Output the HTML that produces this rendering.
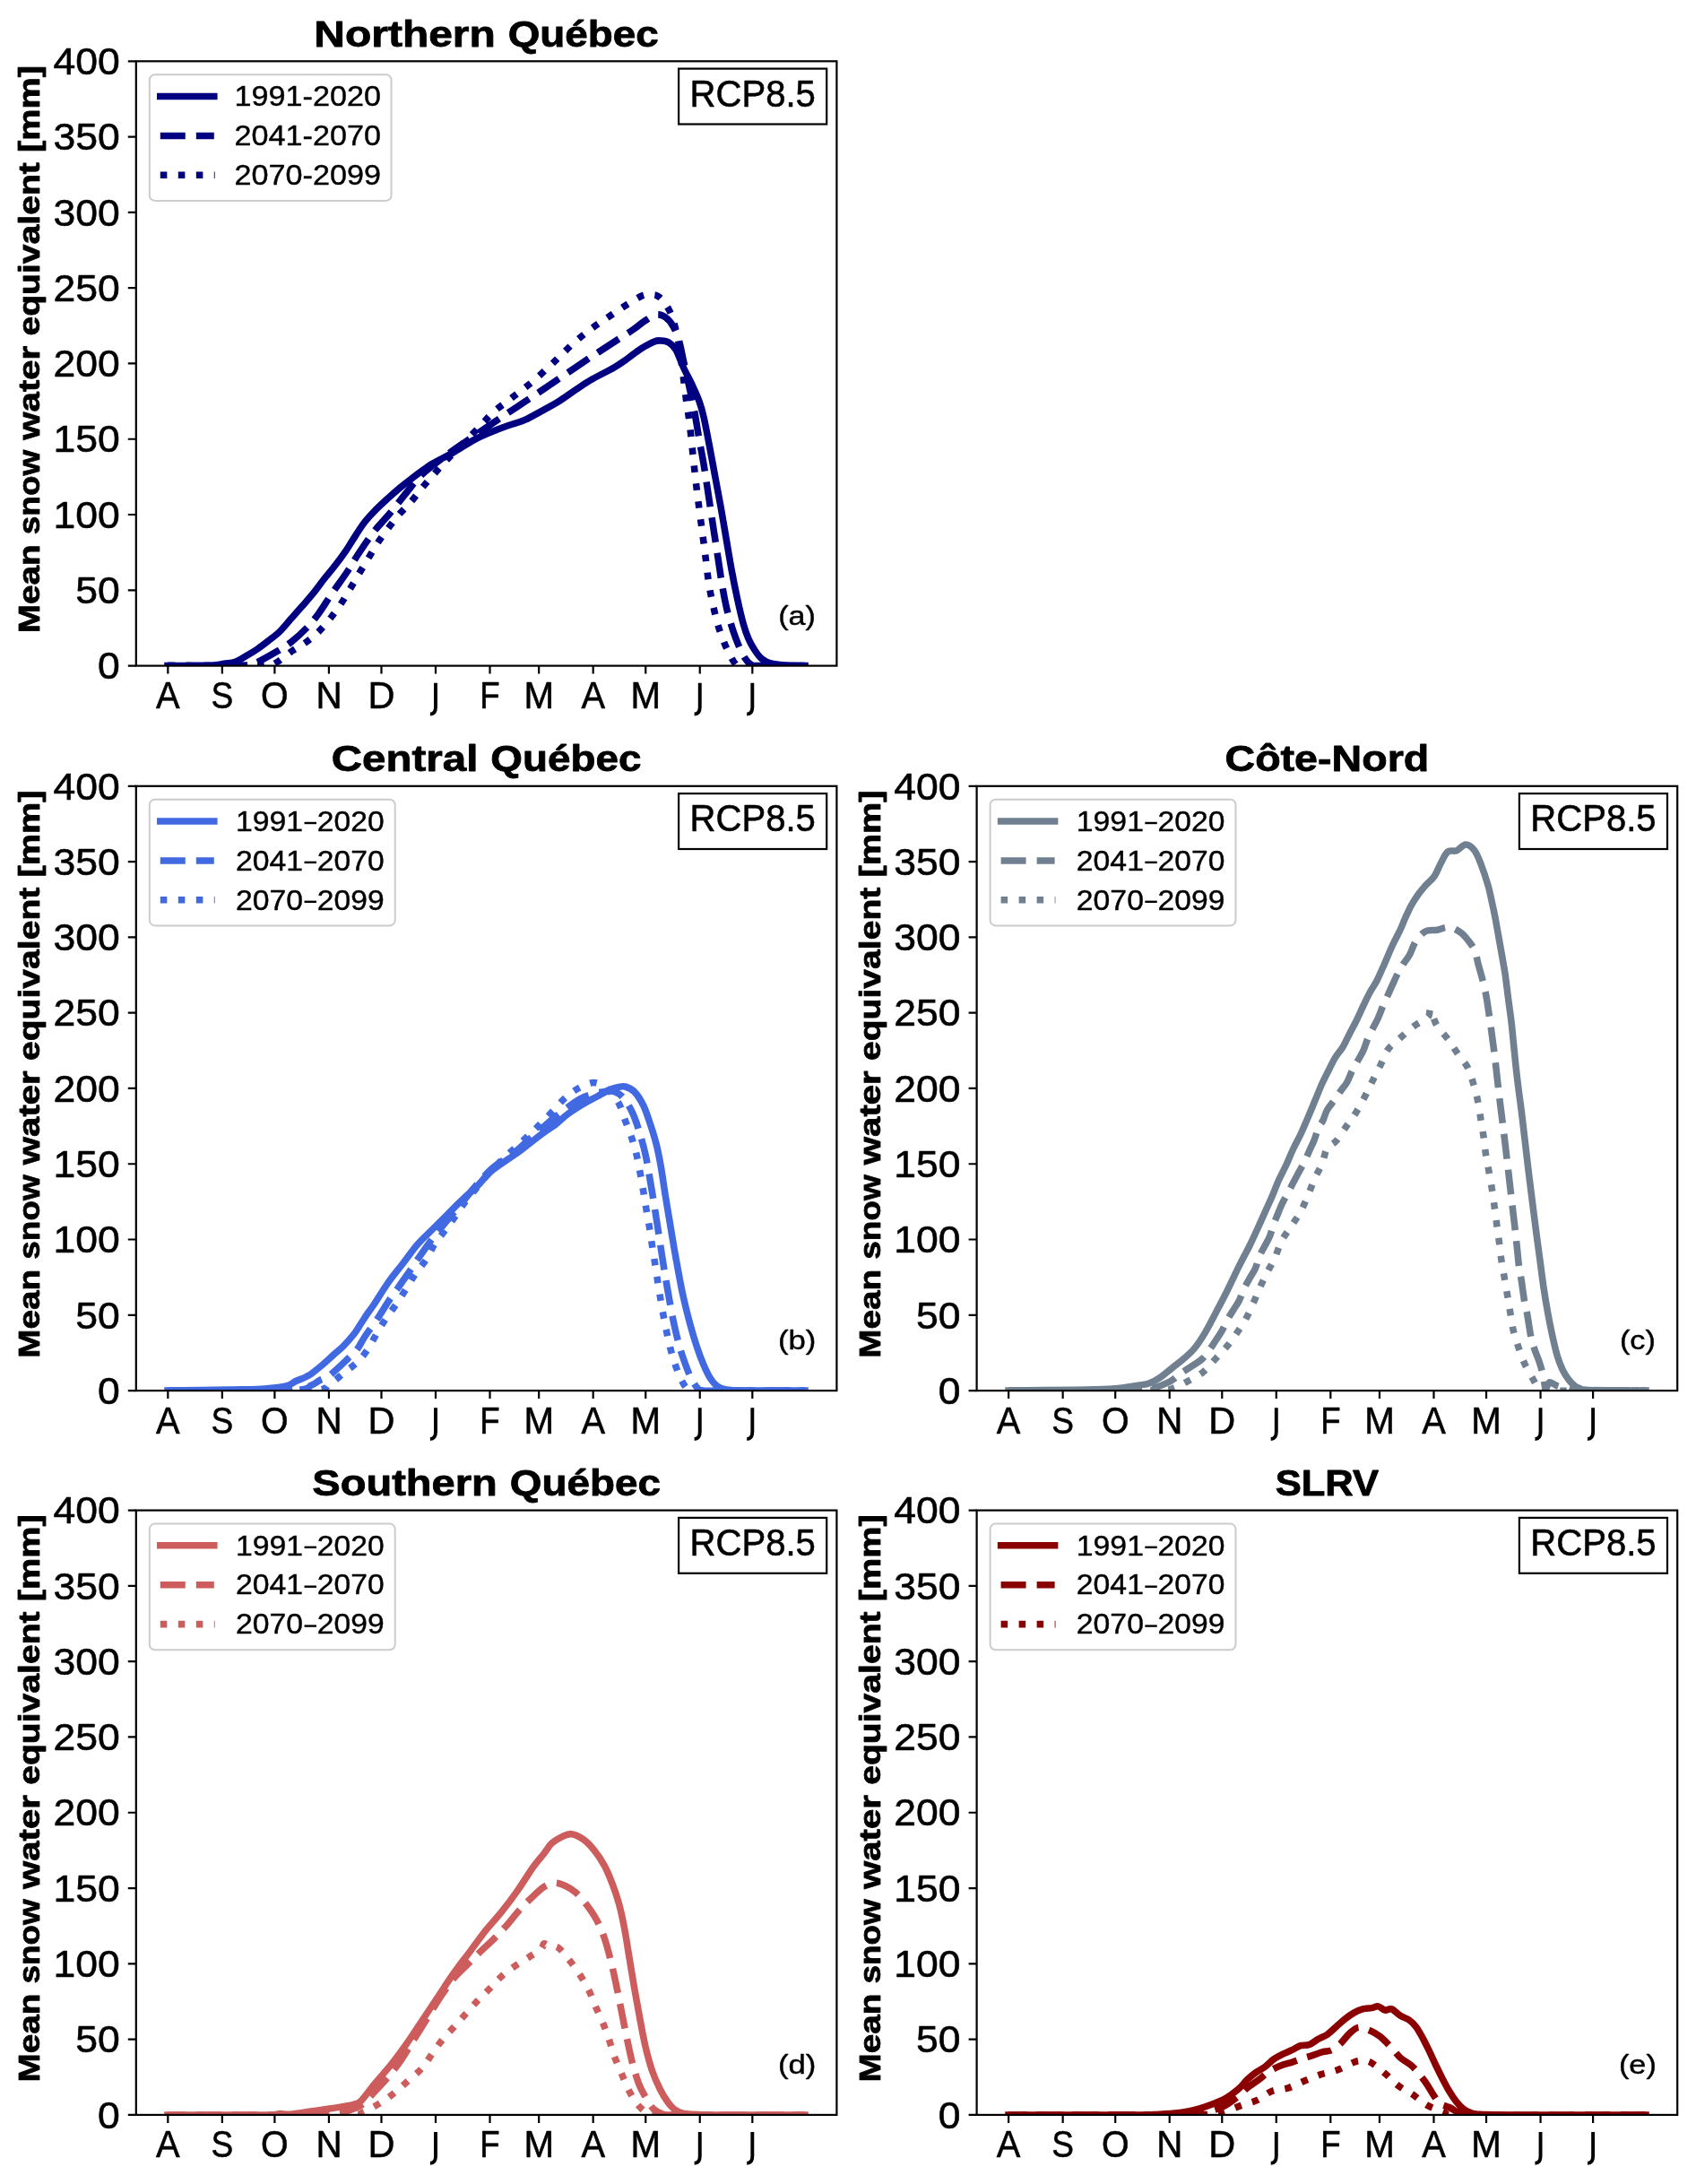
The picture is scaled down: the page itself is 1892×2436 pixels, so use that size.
<!DOCTYPE html>
<html><head><meta charset="utf-8"><title>Mean snow water equivalent</title>
<style>html,body{margin:0;padding:0;background:#fff}svg{display:block;will-change:transform}text{font-family:"Liberation Sans",sans-serif;fill:#000;stroke:#000;stroke-width:.6px;stroke-linejoin:round}.b{font-weight:bold;stroke-width:.8px}.s{stroke-width:.4px}</style></head><body>
<svg width="1892" height="2436" viewBox="0 0 1892 2436">
<rect x="0" y="0" width="1892" height="2436" fill="#fff"/>
<g id="chart-a">
<clipPath id="clip-a"><rect x="151.8" y="68.3" width="781.6" height="674.3"/></clipPath>
<g clip-path="url(#clip-a)" fill="none" stroke="#000080" stroke-width="7.55" stroke-linejoin="round">
<path d="M187 742.5C195 742.45 224.5 742.58 235 742.2C245.5 741.82 245.43 740.87 250 740.2C254.57 739.53 258.27 739.63 262.4 738.2C266.53 736.77 270.68 733.97 274.8 731.6C278.92 729.23 282.98 726.82 287.1 724C291.22 721.18 295.37 717.93 299.5 714.7C303.63 711.47 307.77 708.62 311.9 704.6C316.03 700.58 320.17 695.27 324.3 690.6C328.43 685.93 332.57 681.33 336.7 676.6C340.83 671.87 344.98 667.3 349.1 662.2C353.22 657.1 357.28 651.23 361.4 646C365.52 640.77 369.67 636.17 373.8 630.8C377.93 625.43 382.95 618.5 386.2 613.8C389.45 609.1 389.92 607.77 393.3 602.6C396.68 597.43 402.08 588.57 406.5 582.8C410.92 577.03 415.37 572.55 419.8 568C424.23 563.45 428.68 559.5 433.1 555.5C437.52 551.5 441.88 547.68 446.3 544C450.72 540.32 455.17 536.8 459.6 533.4C464.03 530 469.22 526.23 472.9 523.6C476.58 520.97 478.02 519.78 481.7 517.6C485.38 515.42 490.58 512.88 495 510.5C499.42 508.12 502.55 506.62 508.2 503.3C513.85 499.98 522.32 494.15 528.9 490.6C535.48 487.05 541.42 484.63 547.7 482C553.98 479.37 560.3 477.07 566.6 474.8C572.9 472.53 579.22 471.13 585.5 468.4C591.78 465.67 598.02 461.85 604.3 458.4C610.58 454.95 616.9 451.63 623.2 447.7C629.5 443.77 635.82 438.95 642.1 434.8C648.38 430.65 653.75 426.93 660.9 422.8C668.05 418.67 678.48 413.8 685 410C691.52 406.2 695 403.5 700 400C705 396.5 710 392.17 715 389C720 385.83 726.25 382.5 730 381C733.75 379.5 734.83 379.83 737.5 380C740.17 380.17 743.25 380.33 746 382C748.75 383.67 751.25 385.33 754 390C756.75 394.67 759.42 403.33 762.5 410C765.58 416.67 769.58 423.75 772.5 430C775.42 436.25 777.92 441.67 780 447.5C782.08 453.33 783.17 457.08 785 465C786.83 472.92 788.92 484.17 791 495C793.08 505.83 795.33 518.33 797.5 530C799.67 541.67 801.92 553.33 804 565C806.08 576.67 808 588.33 810 600C812 611.67 813.92 623.75 816 635C818.08 646.25 820.33 657.5 822.5 667.5C824.67 677.5 826.92 687.5 829 695C831.08 702.5 832.75 707.33 835 712.5C837.25 717.67 840 722.25 842.5 726C845 729.75 847.08 732.67 850 735C852.92 737.33 855.83 738.83 860 740C864.17 741.17 868.67 741.58 875 742C881.33 742.42 894.17 742.42 898 742.5" stroke-linecap="square"/>
<path d="M187 742.5C200.83 742.47 253.67 742.8 270 742.3C285 741.8 278.33 742.22 285 739.5C291.67 736.78 303.33 729.92 310 726C316.67 722.08 319.58 720.33 325 716C330.42 711.67 337.5 705.17 342.5 700C347.5 694.83 350.42 691.25 355 685C359.58 678.75 364.58 670.42 370 662.5C375.42 654.58 382.5 645 387.5 637.5C392.5 630 395 625 400 617.5C405 610 411.67 600 417.5 592.5C423.33 585 428.75 580 435 572.5C441.25 565 449.17 554.58 455 547.5C460.83 540.42 463.33 536.25 470 530C476.67 523.75 487.08 516 495 510C502.92 504 509.58 499.5 517.5 494C525.42 488.5 535.42 481.83 542.5 477C549.58 472.17 552.92 469.77 560 465C567.08 460.23 576.67 453.97 585 448.4C593.33 442.83 601.67 437.22 610 431.6C618.33 425.98 626.67 420.33 635 414.7C643.33 409.07 651.67 403.33 660 397.8C668.33 392.27 677.5 386.38 685 381.5C692.5 376.62 699.17 372.5 705 368.5C710.83 364.5 715.42 360.42 720 357.5C724.58 354.58 728.75 351.58 732.5 351C736.25 350.42 739.42 351.83 742.5 354C745.58 356.17 748.5 359.67 751 364C753.5 368.33 755.58 373.58 757.5 380C759.42 386.42 760.83 395 762.5 402.5C764.17 410 765.58 416.25 767.5 425C769.42 433.75 771.92 444.17 774 455C776.08 465.83 778.17 479.58 780 490C781.83 500.42 783.33 507.5 785 517.5C786.67 527.5 788.17 537.92 790 550C791.83 562.08 794.17 577.92 796 590C797.83 602.08 799.33 611.67 801 622.5C802.67 633.33 804.33 645.42 806 655C807.67 664.58 809.08 672.08 811 680C812.92 687.92 815.33 695.83 817.5 702.5C819.67 709.17 821.75 714.75 824 720C826.25 725.25 828.75 730.5 831 734C833.25 737.5 835.17 739.58 837.5 741C839.83 742.42 837.5 742.25 845 742.5C855.08 742.75 889.17 742.5 898 742.5" stroke-dasharray="27.94 12.08" stroke-dashoffset="19"/>
<path d="M187 742.5C205 742.47 274.92 742.8 295 742.3C307.5 741.8 302.33 742.22 307.5 739.5C312.67 736.78 320.17 730 326 726C331.83 722 337.5 719.17 342.5 715.5C347.5 711.83 351.58 708.42 356 704C360.42 699.58 364.83 694.25 369 689C373.17 683.75 377.33 678 381 672.5C384.67 667 387.67 661.58 391 656C394.33 650.42 397.67 644.58 401 639C404.33 633.42 407.67 628 411 622.5C414.33 617 417.42 611.42 421 606C424.58 600.58 428.5 595.33 432.5 590C436.5 584.67 440.58 579.17 445 574C449.42 568.83 454.67 564 459 559C463.33 554 466.83 549 471 544C475.17 539 479.58 534 484 529C488.42 524 492.33 519.5 497.5 514C502.67 508.5 508.75 502.33 515 496C521.25 489.67 529.17 482 535 476C540.83 470 544.83 464.75 550 460C555.17 455.25 560.83 451.5 566 447.5C571.17 443.5 576 439.92 581 436C586 432.08 590.75 428.5 596 424C601.25 419.5 607.5 413.67 612.5 409C617.5 404.33 621.42 400.42 626 396C630.58 391.58 635.33 386.67 640 382.5C644.67 378.33 649.42 374.58 654 371C658.58 367.42 662.75 364.33 667.5 361C672.25 357.67 677.25 354.5 682.5 351C687.75 347.5 693.42 343.5 699 340C704.58 336.5 711.67 331.83 716 330C720.33 328.17 721.83 328.83 725 329C728.17 329.17 731.5 328.33 735 331C738.5 333.67 743.08 339.75 746 345C748.92 350.25 750.58 355.83 752.5 362.5C754.42 369.17 756.08 377.08 757.5 385C758.92 392.92 759.75 400.42 761 410C762.25 419.58 763.67 432.5 765 442.5C766.33 452.5 767.75 460 769 470C770.25 480 771.33 491.67 772.5 502.5C773.67 513.33 774.75 524.17 776 535C777.25 545.83 778.67 557.08 780 567.5C781.33 577.92 782.75 587.92 784 597.5C785.25 607.08 786.33 615.83 787.5 625C788.67 634.17 789.58 643.75 791 652.5C792.42 661.25 794.33 670 796 677.5C797.67 685 799.08 691.08 801 697.5C802.92 703.92 805.33 710.58 807.5 716C809.67 721.42 811.92 726 814 730C816.08 734 818 737.92 820 740C822 742.08 820 742.08 826 742.5C839 742.92 886 742.5 898 742.5" stroke-dasharray="7.55 12.46" stroke-dashoffset="0"/>
</g>
<rect x="151.8" y="68.3" width="781.6" height="674.3" fill="none" stroke="#000" stroke-width="2.2"/>
<path d="M151.8 742.6h-9M151.8 658.31h-9M151.8 574.02h-9M151.8 489.74h-9M151.8 405.45h-9M151.8 321.16h-9M151.8 236.87h-9M151.8 152.59h-9M151.8 68.3h-9M187.33 742.6v9M247.84 742.6v9M306.4 742.6v9M366.92 742.6v9M425.48 742.6v9M485.99 742.6v9M546.51 742.6v9M601.16 742.6v9M661.68 742.6v9M720.24 742.6v9M780.75 742.6v9M839.32 742.6v9" stroke="#000" stroke-width="2.2" fill="none"/>
<text x="133.7" y="757.3" font-size="42" text-anchor="end" textLength="24.74" lengthAdjust="spacingAndGlyphs">0</text>
<text x="133.7" y="673.01" font-size="42" text-anchor="end" textLength="49.49" lengthAdjust="spacingAndGlyphs">50</text>
<text x="133.7" y="588.72" font-size="42" text-anchor="end" textLength="74.23" lengthAdjust="spacingAndGlyphs">100</text>
<text x="133.7" y="504.44" font-size="42" text-anchor="end" textLength="74.23" lengthAdjust="spacingAndGlyphs">150</text>
<text x="133.7" y="420.15" font-size="42" text-anchor="end" textLength="74.23" lengthAdjust="spacingAndGlyphs">200</text>
<text x="133.7" y="335.86" font-size="42" text-anchor="end" textLength="74.23" lengthAdjust="spacingAndGlyphs">250</text>
<text x="133.7" y="251.57" font-size="42" text-anchor="end" textLength="74.23" lengthAdjust="spacingAndGlyphs">300</text>
<text x="133.7" y="167.29" font-size="42" text-anchor="end" textLength="74.23" lengthAdjust="spacingAndGlyphs">350</text>
<text x="133.7" y="83" font-size="42" text-anchor="end" textLength="74.23" lengthAdjust="spacingAndGlyphs">400</text>
<text x="187.33" y="790.1" font-size="42" text-anchor="middle" textLength="26.6" lengthAdjust="spacingAndGlyphs">A</text>
<text x="247.84" y="790.1" font-size="42" text-anchor="middle" textLength="24.69" lengthAdjust="spacingAndGlyphs">S</text>
<text x="306.4" y="790.1" font-size="42" text-anchor="middle" textLength="30.61" lengthAdjust="spacingAndGlyphs">O</text>
<text x="366.92" y="790.1" font-size="42" text-anchor="middle" textLength="29.09" lengthAdjust="spacingAndGlyphs">N</text>
<text x="425.48" y="790.1" font-size="42" text-anchor="middle" textLength="29.95" lengthAdjust="spacingAndGlyphs">D</text>
<path d="M485.99 761.7V788.8c0 5 -1.9 7.7 -6.1 7.7" fill="none" stroke="#000" stroke-width="3.9"/>
<text x="546.51" y="790.1" font-size="42" text-anchor="middle" textLength="22.37" lengthAdjust="spacingAndGlyphs">F</text>
<text x="601.16" y="790.1" font-size="42" text-anchor="middle" textLength="33.55" lengthAdjust="spacingAndGlyphs">M</text>
<text x="661.68" y="790.1" font-size="42" text-anchor="middle" textLength="26.6" lengthAdjust="spacingAndGlyphs">A</text>
<text x="720.24" y="790.1" font-size="42" text-anchor="middle" textLength="33.55" lengthAdjust="spacingAndGlyphs">M</text>
<path d="M780.75 761.7V788.8c0 5 -1.9 7.7 -6.1 7.7" fill="none" stroke="#000" stroke-width="3.9"/>
<path d="M839.32 761.7V788.8c0 5 -1.9 7.7 -6.1 7.7" fill="none" stroke="#000" stroke-width="3.9"/>
<text x="350.33" y="51.5" font-size="41.22" textLength="202.52" lengthAdjust="spacingAndGlyphs" class="b">Northern</text>
<text x="566.7" y="51.5" font-size="41.22" textLength="168.17" lengthAdjust="spacingAndGlyphs" class="b">Québec</text>
<g transform="translate(44.2 706.2) rotate(-90)">
<text x="0" y="0" font-size="34" textLength="98.83" lengthAdjust="spacingAndGlyphs" class="b">Mean</text>
<text x="110.07" y="0" font-size="34" textLength="94.24" lengthAdjust="spacingAndGlyphs" class="b">snow</text>
<text x="215.56" y="0" font-size="34" textLength="104.9" lengthAdjust="spacingAndGlyphs" class="b">water</text>
<text x="331.71" y="0" font-size="34" textLength="193.34" lengthAdjust="spacingAndGlyphs" class="b">equivalent</text>
<text x="536.29" y="0" font-size="34" textLength="96.83" lengthAdjust="spacingAndGlyphs" class="b">[mm]</text>
</g>
<rect x="757.1" y="76.6" width="165.1" height="61.9" fill="#fff" stroke="#000" stroke-width="2.2"/>
<text x="839.7" y="118.8" font-size="42.39" text-anchor="middle" textLength="140.29" lengthAdjust="spacingAndGlyphs">RCP8.5</text>
<text x="889.1" y="696.7" font-size="29.1" text-anchor="middle" textLength="41.79" lengthAdjust="spacingAndGlyphs" class="s">(a)</text>
<rect x="166.8" y="83.3" width="269.72" height="140.6" rx="6" ry="6" fill="#fff" fill-opacity="0.8" stroke="#ccc" stroke-width="2"/>
<path d="M178.8 107.5H238.8" stroke="#000080" stroke-width="7.55" stroke-linecap="square" fill="none"/>
<text x="261.5" y="118.2" font-size="30.9" textLength="163.52" lengthAdjust="spacingAndGlyphs" class="s">1991-2020</text>
<path d="M178.8 151.4H238.8" stroke="#000080" stroke-width="7.55" stroke-dasharray="27.94 12.08" fill="none"/>
<text x="261.5" y="162.1" font-size="30.9" textLength="163.52" lengthAdjust="spacingAndGlyphs" class="s">2041-2070</text>
<path d="M178.8 195.3H239.7" stroke="#000080" stroke-width="7.55" stroke-dasharray="7.55 12.46" fill="none"/>
<text x="261.5" y="206" font-size="30.9" textLength="163.52" lengthAdjust="spacingAndGlyphs" class="s">2070-2099</text>
</g>
<g id="chart-b">
<clipPath id="clip-b"><rect x="151.8" y="876.8" width="781.6" height="674.3"/></clipPath>
<g clip-path="url(#clip-b)" fill="none" stroke="#4169e1" stroke-width="7.55" stroke-linejoin="round">
<path d="M187 1551C199.17 1550.83 243.33 1550.25 260 1550C276.67 1549.75 279.5 1549.83 287 1549.5C294.5 1549.17 299.45 1548.63 305 1548C310.55 1547.37 316.13 1546.95 320.3 1545.7C324.47 1544.45 327.25 1541.82 330 1540.5C332.75 1539.18 334.83 1538.63 336.8 1537.8C338.77 1536.97 339.98 1536.47 341.8 1535.5C343.62 1534.53 344.75 1534.17 347.7 1532C350.65 1529.83 355.57 1525.85 359.5 1522.5C363.43 1519.15 367.37 1515.43 371.3 1511.9C375.23 1508.37 379.17 1505.28 383.1 1501.3C387.03 1497.32 391.67 1492.13 394.9 1488C398.13 1483.87 399.98 1480.33 402.5 1476.5C405.02 1472.67 407.5 1468.67 410 1465C412.5 1461.33 413.67 1460.23 417.5 1454.5C421.33 1448.77 427.67 1438.15 433 1430.6C438.33 1423.05 444 1416.35 449.5 1409.2C455 1402.05 460.5 1394.03 466 1387.7C471.5 1381.37 476.98 1376.7 482.5 1371.2C488.02 1365.7 493.58 1360.2 499.1 1354.7C504.62 1349.2 510.1 1343.43 515.6 1338.2C521.1 1332.97 526.65 1328.67 532.1 1323.3C537.55 1317.93 540.88 1312.18 548.3 1306C555.72 1299.82 569.65 1291.2 576.6 1286.2C583.55 1281.2 585.28 1279.62 590 1276C594.72 1272.38 599.9 1268.17 604.9 1264.5C609.9 1260.83 615.28 1257.62 620 1254C624.72 1250.38 627.85 1246.7 633.2 1242.8C638.55 1238.9 646.6 1233.9 652.1 1230.6C657.6 1227.3 661.55 1225.52 666.2 1223C670.85 1220.48 676.03 1217.25 680 1215.5C683.97 1213.75 687.08 1213.08 690 1212.5C692.92 1211.92 694.58 1211.17 697.5 1212C700.42 1212.83 704.17 1214.08 707.5 1217.5C710.83 1220.92 714.58 1226.67 717.5 1232.5C720.42 1238.33 722.5 1245 725 1252.5C727.5 1260 730.42 1269.17 732.5 1277.5C734.58 1285.83 735.83 1292.92 737.5 1302.5C739.17 1312.08 740.83 1324.58 742.5 1335C744.17 1345.42 745.83 1355 747.5 1365C749.17 1375 750.83 1385.42 752.5 1395C754.17 1404.58 755.83 1413.75 757.5 1422.5C759.17 1431.25 760.42 1438.33 762.5 1447.5C764.58 1456.67 767.5 1468.33 770 1477.5C772.5 1486.67 775 1495 777.5 1502.5C780 1510 782.5 1516.67 785 1522.5C787.5 1528.33 790 1533.58 792.5 1537.5C795 1541.42 797.08 1543.92 800 1546C802.92 1548.08 805 1549.17 810 1550C815 1550.83 815.33 1550.83 830 1551C844.67 1551.17 886.67 1551 898 1551" stroke-linecap="square"/>
<path d="M187 1551C210.83 1550.92 303.25 1551.5 330 1550.5C347.5 1549.5 343.08 1546.82 347.5 1545C351.92 1543.18 353.32 1541.28 356.5 1539.6C359.68 1537.92 362.97 1537.37 366.6 1534.9C370.23 1532.43 374.73 1528.03 378.3 1524.8C381.87 1521.57 384.75 1518.63 388 1515.5C391.25 1512.37 394.55 1510.25 397.8 1506C401.05 1501.75 403.8 1495.58 407.5 1490C411.2 1484.42 415.75 1478.82 420 1472.5C424.25 1466.18 428.83 1458.35 433 1452.1C437.17 1445.85 441.15 1440.5 445 1435C448.85 1429.5 452.43 1424.43 456.1 1419.1C459.77 1413.77 463.28 1408.37 467 1403C470.72 1397.63 474.57 1392.07 478.4 1386.9C482.23 1381.73 486.07 1376.9 490 1372C493.93 1367.1 497.83 1362.5 502 1357.5C506.17 1352.5 510.33 1347.67 515 1342C519.67 1336.33 524.58 1329.75 530 1323.5C535.42 1317.25 542.5 1309.25 547.5 1304.5C552.5 1299.75 555.42 1298.33 560 1295C564.58 1291.67 570 1288.5 575 1284.5C580 1280.5 585.17 1275.25 590 1271C594.83 1266.75 599.55 1262.83 604 1259C608.45 1255.17 612.03 1251.83 616.7 1248C621.37 1244.17 627.05 1239.67 632 1236C636.95 1232.33 641.73 1228.58 646.4 1226C651.07 1223.42 655.23 1221.92 660 1220.5C664.77 1219.08 670.83 1218 675 1217.5C679.17 1217 681.67 1216.42 685 1217.5C688.33 1218.58 691.67 1220.25 695 1224C698.33 1227.75 702.08 1234 705 1240C707.92 1246 710 1252.08 712.5 1260C715 1267.92 717.92 1278.33 720 1287.5C722.08 1296.67 723.33 1305.42 725 1315C726.67 1324.58 728.33 1334.58 730 1345C731.67 1355.42 733.33 1366.67 735 1377.5C736.67 1388.33 738.33 1399.58 740 1410C741.67 1420.42 743.17 1429.58 745 1440C746.83 1450.42 748.92 1462.5 751 1472.5C753.08 1482.5 755.33 1492.08 757.5 1500C759.67 1507.92 761.92 1514.17 764 1520C766.08 1525.83 767.75 1530.42 770 1535C772.25 1539.58 775 1544.83 777.5 1547.5C780 1550.17 777.5 1550.42 785 1551C805.08 1551.58 879.17 1551 898 1551" stroke-dasharray="27.94 12.08" stroke-dashoffset="13"/>
<path d="M187 1551C214.5 1550.92 321.92 1551.67 352 1550.5C367.5 1549.33 362.17 1547.25 367.5 1544C372.83 1540.75 378.75 1535.17 384 1531C389.25 1526.83 394.5 1523.5 399 1519C403.5 1514.5 407.33 1509.5 411 1504C414.67 1498.5 417.67 1491.67 421 1486C424.33 1480.33 427.42 1475.33 431 1470C434.58 1464.67 438.67 1459.67 442.5 1454C446.33 1448.33 450.42 1441.67 454 1436C457.58 1430.33 460.33 1425.33 464 1420C467.67 1414.67 472.5 1409.42 476 1404C479.5 1398.58 481.42 1393 485 1387.5C488.58 1382 493.5 1376.42 497.5 1371C501.5 1365.58 505.25 1360.33 509 1355C512.75 1349.67 516.08 1344.17 520 1339C523.92 1333.83 528.33 1329 532.5 1324C536.67 1319 540.42 1314.08 545 1309C549.58 1303.92 555 1298.33 560 1293.5C565 1288.67 570 1284.58 575 1280C580 1275.42 585.42 1270.33 590 1266C594.58 1261.67 598.17 1258.33 602.5 1254C606.83 1249.67 611.42 1244.83 616 1240C620.58 1235.17 625.17 1229.33 630 1225C634.83 1220.67 639.58 1216.92 645 1214C650.42 1211.08 657.08 1207.33 662.5 1207.5C667.92 1207.67 672.92 1211.25 677.5 1215C682.08 1218.75 686.67 1224.17 690 1230C693.33 1235.83 695 1243.33 697.5 1250C700 1256.67 702.92 1263.75 705 1270C707.08 1276.25 708.5 1281.25 710 1287.5C711.5 1293.75 712.75 1300.83 714 1307.5C715.25 1314.17 716.42 1321.08 717.5 1327.5C718.58 1333.92 719.42 1339.58 720.5 1346C721.58 1352.42 722.92 1359.33 724 1366C725.08 1372.67 726 1379.5 727 1386C728 1392.5 729 1398.5 730 1405C731 1411.5 732 1418.5 733 1425C734 1431.5 734.92 1437.5 736 1444C737.08 1450.5 738.33 1457.58 739.5 1464C740.67 1470.42 741.67 1476.08 743 1482.5C744.33 1488.92 745.92 1496.25 747.5 1502.5C749.08 1508.75 750.42 1513.92 752.5 1520C754.58 1526.08 757.5 1534 760 1539C762.5 1544 765 1548 767.5 1550C770 1552 767.5 1550.83 775 1551C796.75 1551.17 877.5 1551 898 1551" stroke-dasharray="7.55 12.46" stroke-dashoffset="8.5"/>
</g>
<rect x="151.8" y="876.8" width="781.6" height="674.3" fill="none" stroke="#000" stroke-width="2.2"/>
<path d="M151.8 1551.1h-9M151.8 1466.81h-9M151.8 1382.52h-9M151.8 1298.24h-9M151.8 1213.95h-9M151.8 1129.66h-9M151.8 1045.38h-9M151.8 961.09h-9M151.8 876.8h-9M187.33 1551.1v9M247.84 1551.1v9M306.4 1551.1v9M366.92 1551.1v9M425.48 1551.1v9M485.99 1551.1v9M546.51 1551.1v9M601.16 1551.1v9M661.68 1551.1v9M720.24 1551.1v9M780.75 1551.1v9M839.32 1551.1v9" stroke="#000" stroke-width="2.2" fill="none"/>
<text x="133.7" y="1565.8" font-size="42" text-anchor="end" textLength="24.74" lengthAdjust="spacingAndGlyphs">0</text>
<text x="133.7" y="1481.51" font-size="42" text-anchor="end" textLength="49.49" lengthAdjust="spacingAndGlyphs">50</text>
<text x="133.7" y="1397.22" font-size="42" text-anchor="end" textLength="74.23" lengthAdjust="spacingAndGlyphs">100</text>
<text x="133.7" y="1312.94" font-size="42" text-anchor="end" textLength="74.23" lengthAdjust="spacingAndGlyphs">150</text>
<text x="133.7" y="1228.65" font-size="42" text-anchor="end" textLength="74.23" lengthAdjust="spacingAndGlyphs">200</text>
<text x="133.7" y="1144.36" font-size="42" text-anchor="end" textLength="74.23" lengthAdjust="spacingAndGlyphs">250</text>
<text x="133.7" y="1060.08" font-size="42" text-anchor="end" textLength="74.23" lengthAdjust="spacingAndGlyphs">300</text>
<text x="133.7" y="975.79" font-size="42" text-anchor="end" textLength="74.23" lengthAdjust="spacingAndGlyphs">350</text>
<text x="133.7" y="891.5" font-size="42" text-anchor="end" textLength="74.23" lengthAdjust="spacingAndGlyphs">400</text>
<text x="187.33" y="1598.6" font-size="42" text-anchor="middle" textLength="26.6" lengthAdjust="spacingAndGlyphs">A</text>
<text x="247.84" y="1598.6" font-size="42" text-anchor="middle" textLength="24.69" lengthAdjust="spacingAndGlyphs">S</text>
<text x="306.4" y="1598.6" font-size="42" text-anchor="middle" textLength="30.61" lengthAdjust="spacingAndGlyphs">O</text>
<text x="366.92" y="1598.6" font-size="42" text-anchor="middle" textLength="29.09" lengthAdjust="spacingAndGlyphs">N</text>
<text x="425.48" y="1598.6" font-size="42" text-anchor="middle" textLength="29.95" lengthAdjust="spacingAndGlyphs">D</text>
<path d="M485.99 1570.2V1597.3c0 5 -1.9 7.7 -6.1 7.7" fill="none" stroke="#000" stroke-width="3.9"/>
<text x="546.51" y="1598.6" font-size="42" text-anchor="middle" textLength="22.37" lengthAdjust="spacingAndGlyphs">F</text>
<text x="601.16" y="1598.6" font-size="42" text-anchor="middle" textLength="33.55" lengthAdjust="spacingAndGlyphs">M</text>
<text x="661.68" y="1598.6" font-size="42" text-anchor="middle" textLength="26.6" lengthAdjust="spacingAndGlyphs">A</text>
<text x="720.24" y="1598.6" font-size="42" text-anchor="middle" textLength="33.55" lengthAdjust="spacingAndGlyphs">M</text>
<path d="M780.75 1570.2V1597.3c0 5 -1.9 7.7 -6.1 7.7" fill="none" stroke="#000" stroke-width="3.9"/>
<path d="M839.32 1570.2V1597.3c0 5 -1.9 7.7 -6.1 7.7" fill="none" stroke="#000" stroke-width="3.9"/>
<text x="369.78" y="860" font-size="41.22" textLength="163.63" lengthAdjust="spacingAndGlyphs" class="b">Central</text>
<text x="547.25" y="860" font-size="41.22" textLength="168.17" lengthAdjust="spacingAndGlyphs" class="b">Québec</text>
<g transform="translate(44.2 1514.7) rotate(-90)">
<text x="0" y="0" font-size="34" textLength="98.83" lengthAdjust="spacingAndGlyphs" class="b">Mean</text>
<text x="110.07" y="0" font-size="34" textLength="94.24" lengthAdjust="spacingAndGlyphs" class="b">snow</text>
<text x="215.56" y="0" font-size="34" textLength="104.9" lengthAdjust="spacingAndGlyphs" class="b">water</text>
<text x="331.71" y="0" font-size="34" textLength="193.34" lengthAdjust="spacingAndGlyphs" class="b">equivalent</text>
<text x="536.29" y="0" font-size="34" textLength="96.83" lengthAdjust="spacingAndGlyphs" class="b">[mm]</text>
</g>
<rect x="757.1" y="885.1" width="165.1" height="61.9" fill="#fff" stroke="#000" stroke-width="2.2"/>
<text x="839.7" y="927.3" font-size="42.39" text-anchor="middle" textLength="140.29" lengthAdjust="spacingAndGlyphs">RCP8.5</text>
<text x="889.1" y="1505.2" font-size="29.1" text-anchor="middle" textLength="42.45" lengthAdjust="spacingAndGlyphs" class="s">(b)</text>
<rect x="166.8" y="891.8" width="273.9" height="140.6" rx="6" ry="6" fill="#fff" fill-opacity="0.8" stroke="#ccc" stroke-width="2"/>
<path d="M178.8 916H238.8" stroke="#4169e1" stroke-width="7.55" stroke-linecap="square" fill="none"/>
<text x="263" y="926.7" font-size="30.9" textLength="75.15" lengthAdjust="spacingAndGlyphs" class="s">1991</text>
<rect x="339.55" y="916.8" width="13.4" height="2.4" fill="#000"/>
<text x="353.75" y="926.7" font-size="30.9" textLength="74.85" lengthAdjust="spacingAndGlyphs" class="s">2020</text>
<path d="M178.8 959.9H238.8" stroke="#4169e1" stroke-width="7.55" stroke-dasharray="27.94 12.08" fill="none"/>
<text x="263" y="970.6" font-size="30.9" textLength="75.15" lengthAdjust="spacingAndGlyphs" class="s">2041</text>
<rect x="339.55" y="960.7" width="13.4" height="2.4" fill="#000"/>
<text x="353.75" y="970.6" font-size="30.9" textLength="74.85" lengthAdjust="spacingAndGlyphs" class="s">2070</text>
<path d="M178.8 1003.8H239.7" stroke="#4169e1" stroke-width="7.55" stroke-dasharray="7.55 12.46" fill="none"/>
<text x="263" y="1014.5" font-size="30.9" textLength="75.15" lengthAdjust="spacingAndGlyphs" class="s">2070</text>
<rect x="339.55" y="1004.6" width="13.4" height="2.4" fill="#000"/>
<text x="353.75" y="1014.5" font-size="30.9" textLength="74.85" lengthAdjust="spacingAndGlyphs" class="s">2099</text>
</g>
<g id="chart-c">
<clipPath id="clip-c"><rect x="1089.6" y="876.8" width="781.6" height="674.3"/></clipPath>
<g clip-path="url(#clip-c)" fill="none" stroke="#708090" stroke-width="7.55" stroke-linejoin="round">
<path d="M1125 1551C1137.5 1550.87 1181.25 1550.5 1200 1550.2C1218.75 1549.9 1228.33 1549.65 1237.5 1549.2C1246.67 1548.75 1249.58 1548.17 1255 1547.5C1260.42 1546.83 1265.43 1546 1270 1545.2C1274.57 1544.4 1278.27 1544.22 1282.4 1542.7C1286.53 1541.18 1290.68 1538.85 1294.8 1536.1C1298.92 1533.35 1302.98 1529.5 1307.1 1526.2C1311.22 1522.9 1315.37 1519.88 1319.5 1516.3C1323.63 1512.72 1327.77 1509.65 1331.9 1504.7C1336.03 1499.75 1340.17 1493.47 1344.3 1486.6C1348.43 1479.73 1352.57 1471.35 1356.7 1463.5C1360.83 1455.65 1364.98 1447.77 1369.1 1439.5C1373.22 1431.23 1378.25 1420.32 1381.4 1413.9C1384.55 1407.48 1385.9 1405.07 1388 1401C1390.1 1396.93 1391.48 1394.67 1394 1389.5C1396.52 1384.33 1400.07 1376.63 1403.1 1370C1406.13 1363.37 1409.45 1355.83 1412.2 1349.7C1414.95 1343.57 1417.27 1338.65 1419.6 1333.2C1421.93 1327.75 1423.72 1322.53 1426.2 1317C1428.68 1311.47 1431.75 1305.92 1434.5 1300C1437.25 1294.08 1439.95 1287.33 1442.7 1281.5C1445.45 1275.67 1448.52 1270.25 1451 1265C1453.48 1259.75 1454.88 1256.37 1457.6 1250C1460.32 1243.63 1464.43 1233.68 1467.3 1226.8C1470.17 1219.92 1472.18 1214.47 1474.8 1208.7C1477.42 1202.93 1480.53 1197.07 1483 1192.2C1485.47 1187.33 1487.12 1183.53 1489.6 1179.5C1492.08 1175.47 1495.28 1172.33 1497.9 1168C1500.52 1163.67 1502.68 1158.58 1505.3 1153.5C1507.92 1148.42 1510.98 1142.83 1513.6 1137.5C1516.22 1132.17 1518.53 1126.67 1521 1121.5C1523.47 1116.33 1525.92 1111.08 1528.4 1106.5C1530.88 1101.92 1533.27 1099.13 1535.9 1094C1538.53 1088.87 1541.25 1082.37 1544.2 1075.7C1547.15 1069.03 1550.62 1060.45 1553.6 1054C1556.58 1047.55 1559.75 1042.03 1562.1 1037C1564.45 1031.97 1565.67 1028.3 1567.7 1023.8C1569.73 1019.3 1571.93 1014.3 1574.3 1010C1576.67 1005.7 1579.22 1001.75 1581.9 998C1584.58 994.25 1587.38 990.92 1590.4 987.5C1593.42 984.08 1597.15 981.67 1600 977.5C1602.85 973.33 1605 967.08 1607.5 962.5C1610 957.92 1612.08 952.29 1615 950C1617.92 947.71 1621.67 950.08 1625 948.75C1628.33 947.42 1631.67 942 1635 942C1638.33 942 1642.08 944.92 1645 948.75C1647.92 952.58 1650 958.54 1652.5 965C1655 971.46 1658.08 980.92 1660 987.5C1661.92 994.08 1662.72 998.75 1664 1004.5C1665.28 1010.25 1666.45 1015.58 1667.7 1022C1668.95 1028.42 1670.23 1035.92 1671.5 1043C1672.77 1050.08 1674.03 1057.25 1675.3 1064.5C1676.57 1071.75 1677.87 1078.12 1679.1 1086.5C1680.33 1094.88 1681.55 1105.97 1682.7 1114.8C1683.85 1123.63 1685.03 1131.25 1686 1139.5C1686.97 1147.75 1687.67 1156.03 1688.5 1164.3C1689.33 1172.57 1690.1 1180.85 1691 1189.1C1691.9 1197.35 1692.87 1205.55 1693.9 1213.8C1694.93 1222.05 1696.03 1229.23 1697.2 1238.6C1698.37 1247.97 1699.6 1258.93 1700.9 1270C1702.2 1281.07 1703.57 1293.17 1705 1305C1706.43 1316.83 1707.92 1328.5 1709.5 1341C1711.08 1353.5 1713.03 1368.78 1714.5 1380C1715.97 1391.22 1717.03 1398.87 1718.3 1408.3C1719.57 1417.73 1720.68 1427.17 1722.1 1436.6C1723.52 1446.03 1725.23 1456.25 1726.8 1464.9C1728.37 1473.55 1729.77 1480.63 1731.5 1488.5C1733.23 1496.37 1735.15 1505.33 1737.2 1512.1C1739.25 1518.87 1741.6 1524.55 1743.8 1529.1C1746 1533.65 1748.37 1536.73 1750.4 1539.4C1752.43 1542.07 1754.12 1543.6 1756 1545.1C1757.88 1546.6 1759.03 1547.5 1761.7 1548.4C1764.37 1549.3 1761.7 1550.07 1772 1550.5C1784.38 1550.93 1825.33 1550.92 1836 1551" stroke-linecap="square"/>
<path d="M1125 1551C1149.17 1550.92 1243.33 1550.88 1270 1550.5C1285 1550.12 1279.17 1550.33 1285 1548.75C1290.83 1547.17 1299.38 1543.99 1305 1541C1310.62 1538.01 1312.83 1534.88 1318.7 1530.8C1324.57 1526.72 1335.12 1520.7 1340.2 1516.5C1345.28 1512.3 1346.57 1509.1 1349.2 1505.6C1351.83 1502.1 1353.65 1499.08 1356 1495.5C1358.35 1491.92 1360.98 1488.18 1363.3 1484.1C1365.62 1480.02 1367.78 1474.85 1369.9 1471C1372.02 1467.15 1373.93 1464.38 1376 1461C1378.07 1457.62 1380.3 1454.7 1382.3 1450.7C1384.3 1446.7 1386.05 1441.12 1388 1437C1389.95 1432.88 1391.93 1429.7 1394 1426C1396.07 1422.3 1398.6 1418.88 1400.4 1414.8C1402.2 1410.72 1403.12 1405.55 1404.8 1401.5C1406.48 1397.45 1408.58 1394.18 1410.5 1390.5C1412.42 1386.82 1414.57 1383.58 1416.3 1379.4C1418.03 1375.22 1419.37 1369.63 1420.9 1365.4C1422.43 1361.17 1423.92 1357.85 1425.5 1354C1427.08 1350.15 1428.48 1346.25 1430.4 1342.3C1432.32 1338.35 1434.9 1334.27 1437 1330.3C1439.1 1326.33 1440.95 1322.42 1443 1318.5C1445.05 1314.58 1447.22 1310.68 1449.3 1306.8C1451.38 1302.92 1453.63 1299 1455.5 1295.2C1457.37 1291.4 1458.77 1287.85 1460.5 1284C1462.23 1280.15 1464.18 1276.42 1465.9 1272.1C1467.62 1267.78 1469.12 1261.87 1470.8 1258.1C1472.48 1254.33 1474.38 1252.85 1476 1249.5C1477.62 1246.15 1478.37 1241.78 1480.5 1238C1482.63 1234.22 1486.3 1230.3 1488.8 1226.8C1491.3 1223.3 1493.17 1220.3 1495.5 1217C1497.83 1213.7 1500.62 1210.87 1502.8 1207C1504.98 1203.13 1506.57 1197.88 1508.6 1193.8C1510.63 1189.72 1512.93 1186.22 1515 1182.5C1517.07 1178.78 1519.18 1175.53 1521 1171.5C1522.82 1167.47 1524.15 1162.38 1525.9 1158.3C1527.65 1154.22 1529.57 1150.85 1531.5 1147C1533.43 1143.15 1535.67 1139.23 1537.5 1135.2C1539.33 1131.17 1540.75 1126.92 1542.5 1122.8C1544.25 1118.68 1546.22 1114.48 1548 1110.5C1549.78 1106.52 1551.33 1102.98 1553.2 1098.9C1555.07 1094.82 1557.1 1090.03 1559.2 1086C1561.3 1081.97 1563.58 1078.2 1565.8 1074.7C1568.02 1071.2 1570.45 1068.77 1572.5 1065C1574.55 1061.23 1576.07 1055.77 1578.1 1052.1C1580.13 1048.43 1582.33 1045.35 1584.7 1043C1587.07 1040.65 1589.15 1038.97 1592.3 1038C1595.45 1037.03 1600.3 1037.77 1603.6 1037.2C1606.9 1036.63 1609.58 1035.1 1612.1 1034.6C1614.62 1034.1 1615.72 1033.22 1618.7 1034.2C1621.68 1035.18 1626.87 1038.12 1630 1040.5C1633.13 1042.88 1634.98 1045.25 1637.5 1048.5C1640.02 1051.75 1643.2 1055.63 1645.1 1060C1647 1064.37 1647.65 1070.03 1648.9 1074.7C1650.15 1079.37 1651.42 1083.53 1652.6 1088C1653.78 1092.47 1654.93 1096.67 1656 1101.5C1657.07 1106.33 1657.75 1109.25 1659 1117C1660.25 1124.75 1662 1137.08 1663.5 1148C1665 1158.92 1666.5 1170.08 1668 1182.5C1669.5 1194.92 1670.92 1209.17 1672.5 1222.5C1674.08 1235.83 1675.83 1248.75 1677.5 1262.5C1679.17 1276.25 1681.1 1292.97 1682.5 1305C1683.9 1317.03 1684.78 1325.08 1685.9 1334.7C1687.02 1344.32 1688.18 1353.82 1689.2 1362.7C1690.22 1371.58 1691.08 1379.45 1692 1388C1692.92 1396.55 1693.85 1407.47 1694.7 1414C1695.55 1420.53 1696.08 1420.77 1697.1 1427.2C1698.12 1433.63 1699.7 1446.17 1700.8 1452.6C1701.9 1459.03 1702.52 1459.35 1703.7 1465.8C1704.88 1472.25 1706.57 1484.85 1707.9 1491.3C1709.23 1497.75 1710.28 1500.25 1711.7 1504.5C1713.12 1508.75 1714.98 1512.7 1716.4 1516.8C1717.82 1520.9 1719.18 1525.07 1720.2 1529.1C1721.22 1533.13 1721.78 1537.68 1722.5 1541C1723.22 1544.32 1723.47 1548.87 1724.5 1549C1725.53 1549.13 1726.45 1542.27 1728.7 1541.8C1730.95 1541.33 1734.53 1545.03 1738 1546.2C1741.47 1547.37 1745.83 1548 1749.5 1548.8C1753.17 1549.6 1749.5 1550.63 1760 1551C1774.42 1551.37 1823.33 1551 1836 1551" stroke-dasharray="27.94 12.08" stroke-dashoffset="-1"/>
<path d="M1125 1551C1152.83 1550.92 1261.58 1550.88 1292 1550.5C1307.5 1550.12 1302.15 1550.32 1307.5 1548.75C1312.85 1547.18 1318.38 1544.11 1324.1 1541.1C1329.82 1538.09 1336.58 1534.83 1341.8 1530.7C1347.02 1526.57 1350.93 1521.1 1355.4 1516.3C1359.87 1511.5 1364.47 1506.92 1368.6 1501.9C1372.73 1496.88 1376.55 1491.57 1380.2 1486.2C1383.85 1480.83 1387.4 1475.42 1390.5 1469.7C1393.6 1463.98 1396.18 1457.75 1398.8 1451.9C1401.42 1446.05 1403.67 1440.17 1406.2 1434.6C1408.73 1429.03 1411.35 1423.72 1414 1418.5C1416.65 1413.28 1419.52 1408.97 1422.1 1403.3C1424.68 1397.63 1426.47 1390.4 1429.5 1384.5C1432.53 1378.6 1436.72 1373.43 1440.3 1367.9C1443.88 1362.37 1447.85 1357.08 1451 1351.3C1454.15 1345.52 1456.58 1339.32 1459.2 1333.2C1461.82 1327.08 1464.02 1320.65 1466.7 1314.6C1469.38 1308.55 1473.03 1302.5 1475.3 1296.9C1477.57 1291.3 1477.75 1285.07 1480.3 1281C1482.85 1276.93 1487.02 1276.58 1490.6 1272.5C1494.18 1268.42 1498.12 1261.77 1501.8 1256.5C1505.48 1251.23 1509.23 1246.47 1512.7 1240.9C1516.17 1235.33 1519.57 1228.88 1522.6 1223.1C1525.63 1217.32 1528.07 1211.9 1530.9 1206.2C1533.73 1200.5 1536.65 1194.88 1539.6 1188.9C1542.55 1182.92 1544.75 1175.6 1548.6 1170.3C1552.45 1165 1557.95 1161.37 1562.7 1157.1C1567.45 1152.83 1572.63 1148.07 1577.1 1144.7C1581.57 1141.33 1586.68 1138.85 1589.5 1136.9C1592.32 1134.95 1592.92 1134.82 1594 1133C1595.08 1131.18 1594.58 1124.33 1596 1126C1597.42 1127.67 1599.17 1137.33 1602.5 1143C1605.83 1148.67 1612.08 1154.67 1616 1160C1619.92 1165.33 1622.42 1169.83 1626 1175C1629.58 1180.17 1634.5 1185.17 1637.5 1191C1640.5 1196.83 1642.08 1203.5 1644 1210C1645.92 1216.5 1647.67 1223.5 1649 1230C1650.33 1236.5 1651 1242.75 1652 1249C1653 1255.25 1654.08 1261.08 1655 1267.5C1655.92 1273.92 1656.5 1280.98 1657.5 1287.5C1658.5 1294.02 1659.85 1300.12 1661 1306.6C1662.15 1313.08 1663.37 1319.8 1664.4 1326.4C1665.43 1333 1666.3 1339.6 1667.2 1346.2C1668.1 1352.8 1668.92 1359.42 1669.8 1366C1670.68 1372.58 1671.65 1379.12 1672.5 1385.7C1673.35 1392.28 1673.95 1398.98 1674.9 1405.5C1675.85 1412.02 1677.1 1418.35 1678.2 1424.8C1679.3 1431.25 1680.4 1437.67 1681.5 1444.2C1682.6 1450.73 1683.7 1457.48 1684.8 1464C1685.9 1470.52 1686.6 1476.93 1688.1 1483.3C1689.6 1489.67 1691.68 1495.92 1693.8 1502.2C1695.92 1508.48 1698.05 1514.95 1700.8 1521C1703.55 1527.05 1707.77 1534 1710.3 1538.5C1712.83 1543 1714.05 1545.92 1716 1548C1717.95 1550.08 1716 1550.5 1722 1551C1742 1551.5 1817 1551 1836 1551" stroke-dasharray="7.55 12.46" stroke-dashoffset="2"/>
</g>
<rect x="1089.6" y="876.8" width="781.6" height="674.3" fill="none" stroke="#000" stroke-width="2.2"/>
<path d="M1089.6 1551.1h-9M1089.6 1466.81h-9M1089.6 1382.52h-9M1089.6 1298.24h-9M1089.6 1213.95h-9M1089.6 1129.66h-9M1089.6 1045.38h-9M1089.6 961.09h-9M1089.6 876.8h-9M1125.13 1551.1v9M1185.64 1551.1v9M1244.2 1551.1v9M1304.72 1551.1v9M1363.28 1551.1v9M1423.79 1551.1v9M1484.31 1551.1v9M1538.96 1551.1v9M1599.48 1551.1v9M1658.04 1551.1v9M1718.55 1551.1v9M1777.12 1551.1v9" stroke="#000" stroke-width="2.2" fill="none"/>
<text x="1071.5" y="1565.8" font-size="42" text-anchor="end" textLength="24.74" lengthAdjust="spacingAndGlyphs">0</text>
<text x="1071.5" y="1481.51" font-size="42" text-anchor="end" textLength="49.49" lengthAdjust="spacingAndGlyphs">50</text>
<text x="1071.5" y="1397.22" font-size="42" text-anchor="end" textLength="74.23" lengthAdjust="spacingAndGlyphs">100</text>
<text x="1071.5" y="1312.94" font-size="42" text-anchor="end" textLength="74.23" lengthAdjust="spacingAndGlyphs">150</text>
<text x="1071.5" y="1228.65" font-size="42" text-anchor="end" textLength="74.23" lengthAdjust="spacingAndGlyphs">200</text>
<text x="1071.5" y="1144.36" font-size="42" text-anchor="end" textLength="74.23" lengthAdjust="spacingAndGlyphs">250</text>
<text x="1071.5" y="1060.08" font-size="42" text-anchor="end" textLength="74.23" lengthAdjust="spacingAndGlyphs">300</text>
<text x="1071.5" y="975.79" font-size="42" text-anchor="end" textLength="74.23" lengthAdjust="spacingAndGlyphs">350</text>
<text x="1071.5" y="891.5" font-size="42" text-anchor="end" textLength="74.23" lengthAdjust="spacingAndGlyphs">400</text>
<text x="1125.13" y="1598.6" font-size="42" text-anchor="middle" textLength="26.6" lengthAdjust="spacingAndGlyphs">A</text>
<text x="1185.64" y="1598.6" font-size="42" text-anchor="middle" textLength="24.69" lengthAdjust="spacingAndGlyphs">S</text>
<text x="1244.2" y="1598.6" font-size="42" text-anchor="middle" textLength="30.61" lengthAdjust="spacingAndGlyphs">O</text>
<text x="1304.72" y="1598.6" font-size="42" text-anchor="middle" textLength="29.09" lengthAdjust="spacingAndGlyphs">N</text>
<text x="1363.28" y="1598.6" font-size="42" text-anchor="middle" textLength="29.95" lengthAdjust="spacingAndGlyphs">D</text>
<path d="M1423.79 1570.2V1597.3c0 5 -1.9 7.7 -6.1 7.7" fill="none" stroke="#000" stroke-width="3.9"/>
<text x="1484.31" y="1598.6" font-size="42" text-anchor="middle" textLength="22.37" lengthAdjust="spacingAndGlyphs">F</text>
<text x="1538.96" y="1598.6" font-size="42" text-anchor="middle" textLength="33.55" lengthAdjust="spacingAndGlyphs">M</text>
<text x="1599.48" y="1598.6" font-size="42" text-anchor="middle" textLength="26.6" lengthAdjust="spacingAndGlyphs">A</text>
<text x="1658.04" y="1598.6" font-size="42" text-anchor="middle" textLength="33.55" lengthAdjust="spacingAndGlyphs">M</text>
<path d="M1718.55 1570.2V1597.3c0 5 -1.9 7.7 -6.1 7.7" fill="none" stroke="#000" stroke-width="3.9"/>
<path d="M1777.12 1570.2V1597.3c0 5 -1.9 7.7 -6.1 7.7" fill="none" stroke="#000" stroke-width="3.9"/>
<text x="1366.51" y="860" font-size="41.22" textLength="227.77" lengthAdjust="spacingAndGlyphs" class="b">Côte-Nord</text>
<g transform="translate(982 1514.7) rotate(-90)">
<text x="0" y="0" font-size="34" textLength="98.83" lengthAdjust="spacingAndGlyphs" class="b">Mean</text>
<text x="110.07" y="0" font-size="34" textLength="94.24" lengthAdjust="spacingAndGlyphs" class="b">snow</text>
<text x="215.56" y="0" font-size="34" textLength="104.9" lengthAdjust="spacingAndGlyphs" class="b">water</text>
<text x="331.71" y="0" font-size="34" textLength="193.34" lengthAdjust="spacingAndGlyphs" class="b">equivalent</text>
<text x="536.29" y="0" font-size="34" textLength="96.83" lengthAdjust="spacingAndGlyphs" class="b">[mm]</text>
</g>
<rect x="1694.9" y="885.1" width="165.1" height="61.9" fill="#fff" stroke="#000" stroke-width="2.2"/>
<text x="1777.5" y="927.3" font-size="42.39" text-anchor="middle" textLength="140.29" lengthAdjust="spacingAndGlyphs">RCP8.5</text>
<text x="1826.9" y="1505.2" font-size="29.1" text-anchor="middle" textLength="39.9" lengthAdjust="spacingAndGlyphs" class="s">(c)</text>
<rect x="1104.6" y="891.8" width="273.9" height="140.6" rx="6" ry="6" fill="#fff" fill-opacity="0.8" stroke="#ccc" stroke-width="2"/>
<path d="M1116.6 916H1176.6" stroke="#708090" stroke-width="7.55" stroke-linecap="square" fill="none"/>
<text x="1200.8" y="926.7" font-size="30.9" textLength="75.15" lengthAdjust="spacingAndGlyphs" class="s">1991</text>
<rect x="1277.35" y="916.8" width="13.4" height="2.4" fill="#000"/>
<text x="1291.55" y="926.7" font-size="30.9" textLength="74.85" lengthAdjust="spacingAndGlyphs" class="s">2020</text>
<path d="M1116.6 959.9H1176.6" stroke="#708090" stroke-width="7.55" stroke-dasharray="27.94 12.08" fill="none"/>
<text x="1200.8" y="970.6" font-size="30.9" textLength="75.15" lengthAdjust="spacingAndGlyphs" class="s">2041</text>
<rect x="1277.35" y="960.7" width="13.4" height="2.4" fill="#000"/>
<text x="1291.55" y="970.6" font-size="30.9" textLength="74.85" lengthAdjust="spacingAndGlyphs" class="s">2070</text>
<path d="M1116.6 1003.8H1177.5" stroke="#708090" stroke-width="7.55" stroke-dasharray="7.55 12.46" fill="none"/>
<text x="1200.8" y="1014.5" font-size="30.9" textLength="75.15" lengthAdjust="spacingAndGlyphs" class="s">2070</text>
<rect x="1277.35" y="1004.6" width="13.4" height="2.4" fill="#000"/>
<text x="1291.55" y="1014.5" font-size="30.9" textLength="74.85" lengthAdjust="spacingAndGlyphs" class="s">2099</text>
</g>
<g id="chart-d">
<clipPath id="clip-d"><rect x="151.8" y="1684.6" width="781.6" height="674.3"/></clipPath>
<g clip-path="url(#clip-d)" fill="none" stroke="#cd5c5c" stroke-width="7.55" stroke-linejoin="round">
<path d="M187 2359C205.83 2358.98 279.17 2359.13 300 2358.9C312 2358.67 308.07 2357.72 312 2357.6C315.93 2357.48 318.1 2358.58 323.6 2358.2C329.1 2357.82 338.6 2356.2 345 2355.3C351.4 2354.4 356.48 2353.62 362 2352.8C367.52 2351.98 372.67 2351.3 378.1 2350.4C383.53 2349.5 390.47 2348.6 394.6 2347.4C398.73 2346.2 399.02 2347.05 402.9 2343.2C406.78 2339.35 412.45 2330.88 417.9 2324.3C423.35 2317.72 429.7 2311.08 435.6 2303.7C441.5 2296.32 447.4 2288.37 453.3 2280C459.2 2271.63 465.1 2262.33 471 2253.5C476.9 2244.67 482.8 2235.83 488.7 2227C494.6 2218.17 500.5 2208.85 506.4 2200.5C512.3 2192.15 518.22 2184.77 524.1 2176.9C529.98 2169.03 535.82 2160.67 541.7 2153.3C547.58 2145.93 553.5 2140.07 559.4 2132.7C565.3 2125.33 571.2 2117.47 577.1 2109.1C583 2100.73 589.88 2089.38 594.8 2082.5C599.72 2075.62 603.17 2072.22 606.6 2067.8C610.03 2063.38 611.97 2059.2 615.4 2056C618.83 2052.8 623.5 2050.32 627.2 2048.6C630.9 2046.88 633.67 2045.2 637.6 2045.7C641.53 2046.2 646.63 2048.65 650.8 2051.6C654.97 2054.55 658.67 2058.48 662.6 2063.4C666.53 2068.32 670.95 2074.72 674.4 2081.1C677.85 2087.48 680.6 2094.58 683.3 2101.7C686 2108.82 688.4 2115.68 690.6 2123.8C692.8 2131.92 694.53 2140.08 696.5 2150.4C698.47 2160.72 700.43 2173.92 702.4 2185.7C704.37 2197.48 706.33 2209.8 708.3 2221.1C710.27 2232.4 712.23 2243.18 714.2 2253.5C716.17 2263.82 717.88 2273.65 720.1 2283C722.32 2292.35 724.8 2301.73 727.5 2309.6C730.2 2317.47 733.35 2324.32 736.3 2330.2C739.25 2336.08 742.25 2340.97 745.2 2344.9C748.15 2348.83 750.57 2351.65 754 2353.8C757.43 2355.95 758.13 2356.93 765.8 2357.8C773.47 2358.67 777.97 2358.8 800 2359C822.03 2359.2 881.67 2359 898 2359" stroke-linecap="square"/>
<path d="M187 2359C217.5 2358.92 336.92 2359.13 370 2358.5C385.5 2357.87 379.97 2356.97 385.5 2355.2C391.03 2353.43 397.8 2351.58 403.2 2347.9C408.6 2344.22 412.98 2338.27 417.9 2333.1C422.82 2327.93 427.78 2322.78 432.7 2316.9C437.62 2311.02 442.5 2304.92 447.4 2297.8C452.3 2290.68 457.18 2282.07 462.1 2274.2C467.02 2266.33 471.98 2258.47 476.9 2250.6C481.82 2242.73 486.68 2234.37 491.6 2227C496.52 2219.63 501.48 2212.3 506.4 2206.4C511.32 2200.5 516.2 2196.52 521.1 2191.6C526 2186.68 530.88 2181.67 535.8 2176.9C540.72 2172.13 545.68 2167.92 550.6 2163C555.52 2158.08 560.38 2152.95 565.3 2147.4C570.22 2141.85 575.18 2135.1 580.1 2129.7C585.02 2124.3 590.38 2119.17 594.8 2115C599.22 2110.83 602.67 2107.17 606.6 2104.7C610.53 2102.23 614.47 2100.45 618.4 2100.2C622.33 2099.95 626.27 2101.47 630.2 2103.2C634.13 2104.93 638.07 2107.17 642 2110.6C645.93 2114.03 649.87 2118.65 653.8 2123.8C657.73 2128.95 662.17 2135.12 665.6 2141.5C669.03 2147.88 671.7 2154.23 674.4 2162.1C677.1 2169.97 679.58 2179.85 681.8 2188.7C684.02 2197.55 685.73 2205.87 687.7 2215.2C689.67 2224.53 691.63 2234.87 693.6 2244.7C695.57 2254.53 697.53 2264.87 699.5 2274.2C701.47 2283.53 703.2 2292.35 705.4 2300.7C707.6 2309.05 710.25 2317.92 712.7 2324.3C715.15 2330.68 717.38 2334.33 720.1 2339C722.82 2343.67 725.8 2349.13 729 2352.3C732.2 2355.47 735.8 2356.88 739.3 2358C742.8 2359.12 739.3 2358.83 750 2359C776.45 2359.17 873.33 2359 898 2359" stroke-dasharray="27.94 12.08" stroke-dashoffset="8"/>
<path d="M187 2359C221.17 2358.92 355.48 2359.13 392 2358.5C406.1 2357.87 400.55 2357.47 406.1 2355.2C411.65 2352.93 419.4 2348.58 425.3 2344.9C431.2 2341.22 436.33 2337.27 441.5 2333.1C446.67 2328.93 451.38 2324.32 456.3 2319.9C461.22 2315.48 466.83 2311.27 471 2306.6C475.17 2301.93 477.62 2297.07 481.3 2291.9C484.98 2286.73 488.92 2280.77 493.1 2275.6C497.28 2270.43 501.98 2265.8 506.4 2260.9C510.82 2256 515.18 2251.12 519.6 2246.2C524.02 2241.28 528.47 2236.07 532.9 2231.4C537.33 2226.73 541.78 2222.68 546.2 2218.2C550.62 2213.72 554.73 2208.68 559.4 2204.5C564.07 2200.32 569.03 2196.72 574.2 2193.1C579.37 2189.48 585.48 2186 590.4 2182.8C595.32 2179.6 601 2176.37 603.7 2173.9C606.4 2171.43 605.22 2168.65 606.6 2168C607.98 2167.35 609.3 2169.25 612 2170C614.7 2170.75 619.03 2169.88 622.8 2172.5C626.57 2175.12 630.67 2180.8 634.6 2185.7C638.53 2190.6 642.72 2196.25 646.4 2201.9C650.08 2207.55 653.75 2213.7 656.7 2219.6C659.65 2225.5 661.55 2231.4 664.1 2237.3C666.65 2243.2 669.55 2249.1 672 2255C674.45 2260.9 676.68 2266.55 678.8 2272.7C680.92 2278.85 682.48 2285.75 684.7 2291.9C686.92 2298.05 689.63 2303.72 692.1 2309.6C694.57 2315.48 696.8 2321.55 699.5 2327.2C702.2 2332.85 705.12 2338.95 708.3 2343.5C711.48 2348.05 715.32 2351.92 718.6 2354.5C721.88 2357.08 718.6 2358.25 728 2359C757.9 2359.75 869.67 2359 898 2359" stroke-dasharray="7.55 12.46" stroke-dashoffset="8"/>
</g>
<rect x="151.8" y="1684.6" width="781.6" height="674.3" fill="none" stroke="#000" stroke-width="2.2"/>
<path d="M151.8 2358.9h-9M151.8 2274.61h-9M151.8 2190.32h-9M151.8 2106.04h-9M151.8 2021.75h-9M151.8 1937.46h-9M151.8 1853.17h-9M151.8 1768.89h-9M151.8 1684.6h-9M187.33 2358.9v9M247.84 2358.9v9M306.4 2358.9v9M366.92 2358.9v9M425.48 2358.9v9M485.99 2358.9v9M546.51 2358.9v9M601.16 2358.9v9M661.68 2358.9v9M720.24 2358.9v9M780.75 2358.9v9M839.32 2358.9v9" stroke="#000" stroke-width="2.2" fill="none"/>
<text x="133.7" y="2373.6" font-size="42" text-anchor="end" textLength="24.74" lengthAdjust="spacingAndGlyphs">0</text>
<text x="133.7" y="2289.31" font-size="42" text-anchor="end" textLength="49.49" lengthAdjust="spacingAndGlyphs">50</text>
<text x="133.7" y="2205.02" font-size="42" text-anchor="end" textLength="74.23" lengthAdjust="spacingAndGlyphs">100</text>
<text x="133.7" y="2120.74" font-size="42" text-anchor="end" textLength="74.23" lengthAdjust="spacingAndGlyphs">150</text>
<text x="133.7" y="2036.45" font-size="42" text-anchor="end" textLength="74.23" lengthAdjust="spacingAndGlyphs">200</text>
<text x="133.7" y="1952.16" font-size="42" text-anchor="end" textLength="74.23" lengthAdjust="spacingAndGlyphs">250</text>
<text x="133.7" y="1867.87" font-size="42" text-anchor="end" textLength="74.23" lengthAdjust="spacingAndGlyphs">300</text>
<text x="133.7" y="1783.59" font-size="42" text-anchor="end" textLength="74.23" lengthAdjust="spacingAndGlyphs">350</text>
<text x="133.7" y="1699.3" font-size="42" text-anchor="end" textLength="74.23" lengthAdjust="spacingAndGlyphs">400</text>
<text x="187.33" y="2406.4" font-size="42" text-anchor="middle" textLength="26.6" lengthAdjust="spacingAndGlyphs">A</text>
<text x="247.84" y="2406.4" font-size="42" text-anchor="middle" textLength="24.69" lengthAdjust="spacingAndGlyphs">S</text>
<text x="306.4" y="2406.4" font-size="42" text-anchor="middle" textLength="30.61" lengthAdjust="spacingAndGlyphs">O</text>
<text x="366.92" y="2406.4" font-size="42" text-anchor="middle" textLength="29.09" lengthAdjust="spacingAndGlyphs">N</text>
<text x="425.48" y="2406.4" font-size="42" text-anchor="middle" textLength="29.95" lengthAdjust="spacingAndGlyphs">D</text>
<path d="M485.99 2378V2405.1c0 5 -1.9 7.7 -6.1 7.7" fill="none" stroke="#000" stroke-width="3.9"/>
<text x="546.51" y="2406.4" font-size="42" text-anchor="middle" textLength="22.37" lengthAdjust="spacingAndGlyphs">F</text>
<text x="601.16" y="2406.4" font-size="42" text-anchor="middle" textLength="33.55" lengthAdjust="spacingAndGlyphs">M</text>
<text x="661.68" y="2406.4" font-size="42" text-anchor="middle" textLength="26.6" lengthAdjust="spacingAndGlyphs">A</text>
<text x="720.24" y="2406.4" font-size="42" text-anchor="middle" textLength="33.55" lengthAdjust="spacingAndGlyphs">M</text>
<path d="M780.75 2378V2405.1c0 5 -1.9 7.7 -6.1 7.7" fill="none" stroke="#000" stroke-width="3.9"/>
<path d="M839.32 2378V2405.1c0 5 -1.9 7.7 -6.1 7.7" fill="none" stroke="#000" stroke-width="3.9"/>
<text x="348.3" y="1667.8" font-size="41.22" textLength="206.58" lengthAdjust="spacingAndGlyphs" class="b">Southern</text>
<text x="568.73" y="1667.8" font-size="41.22" textLength="168.17" lengthAdjust="spacingAndGlyphs" class="b">Québec</text>
<g transform="translate(44.2 2322.5) rotate(-90)">
<text x="0" y="0" font-size="34" textLength="98.83" lengthAdjust="spacingAndGlyphs" class="b">Mean</text>
<text x="110.07" y="0" font-size="34" textLength="94.24" lengthAdjust="spacingAndGlyphs" class="b">snow</text>
<text x="215.56" y="0" font-size="34" textLength="104.9" lengthAdjust="spacingAndGlyphs" class="b">water</text>
<text x="331.71" y="0" font-size="34" textLength="193.34" lengthAdjust="spacingAndGlyphs" class="b">equivalent</text>
<text x="536.29" y="0" font-size="34" textLength="96.83" lengthAdjust="spacingAndGlyphs" class="b">[mm]</text>
</g>
<rect x="757.1" y="1692.9" width="165.1" height="61.9" fill="#fff" stroke="#000" stroke-width="2.2"/>
<text x="839.7" y="1735.1" font-size="42.39" text-anchor="middle" textLength="140.29" lengthAdjust="spacingAndGlyphs">RCP8.5</text>
<text x="889.1" y="2313" font-size="29.1" text-anchor="middle" textLength="42.45" lengthAdjust="spacingAndGlyphs" class="s">(d)</text>
<rect x="166.8" y="1699.6" width="273.9" height="140.6" rx="6" ry="6" fill="#fff" fill-opacity="0.8" stroke="#ccc" stroke-width="2"/>
<path d="M178.8 1723.8H238.8" stroke="#cd5c5c" stroke-width="7.55" stroke-linecap="square" fill="none"/>
<text x="263" y="1734.5" font-size="30.9" textLength="75.15" lengthAdjust="spacingAndGlyphs" class="s">1991</text>
<rect x="339.55" y="1724.6" width="13.4" height="2.4" fill="#000"/>
<text x="353.75" y="1734.5" font-size="30.9" textLength="74.85" lengthAdjust="spacingAndGlyphs" class="s">2020</text>
<path d="M178.8 1767.7H238.8" stroke="#cd5c5c" stroke-width="7.55" stroke-dasharray="27.94 12.08" fill="none"/>
<text x="263" y="1778.4" font-size="30.9" textLength="75.15" lengthAdjust="spacingAndGlyphs" class="s">2041</text>
<rect x="339.55" y="1768.5" width="13.4" height="2.4" fill="#000"/>
<text x="353.75" y="1778.4" font-size="30.9" textLength="74.85" lengthAdjust="spacingAndGlyphs" class="s">2070</text>
<path d="M178.8 1811.6H239.7" stroke="#cd5c5c" stroke-width="7.55" stroke-dasharray="7.55 12.46" fill="none"/>
<text x="263" y="1822.3" font-size="30.9" textLength="75.15" lengthAdjust="spacingAndGlyphs" class="s">2070</text>
<rect x="339.55" y="1812.4" width="13.4" height="2.4" fill="#000"/>
<text x="353.75" y="1822.3" font-size="30.9" textLength="74.85" lengthAdjust="spacingAndGlyphs" class="s">2099</text>
</g>
<g id="chart-e">
<clipPath id="clip-e"><rect x="1089.6" y="1684.6" width="781.6" height="674.3"/></clipPath>
<g clip-path="url(#clip-e)" fill="none" stroke="#8b0000" stroke-width="7.55" stroke-linejoin="round">
<path d="M1125 2359C1149.17 2359 1242.5 2359.1 1270 2359C1290 2358.9 1284.2 2358.65 1290 2358.4C1295.8 2358.15 1300.13 2357.85 1304.8 2357.5C1309.47 2357.15 1313.03 2357.05 1318 2356.3C1322.97 2355.55 1329.1 2354.45 1334.6 2353C1340.1 2351.55 1345.5 2349.72 1351 2347.6C1356.5 2345.48 1362.52 2343.2 1367.6 2340.3C1372.68 2337.4 1377.53 2333.65 1381.5 2330.2C1385.47 2326.75 1388.1 2322.73 1391.4 2319.6C1394.7 2316.47 1397.98 2313.8 1401.3 2311.4C1404.62 2309 1407.98 2307.67 1411.3 2305.2C1414.62 2302.73 1417.9 2298.95 1421.2 2296.6C1424.5 2294.25 1427.8 2292.75 1431.1 2291.1C1434.4 2289.45 1437.7 2288.27 1441 2286.7C1444.3 2285.13 1447.6 2282.73 1450.9 2281.7C1454.2 2280.67 1457.5 2281.73 1460.8 2280.5C1464.1 2279.27 1467.4 2276.17 1470.7 2274.3C1474 2272.43 1477.3 2271.57 1480.6 2269.3C1483.9 2267.03 1487.2 2263.58 1490.5 2260.7C1493.8 2257.82 1497.1 2254.6 1500.4 2252C1503.7 2249.4 1507 2246.95 1510.3 2245.1C1513.6 2243.25 1516.9 2241.82 1520.2 2240.9C1523.5 2239.98 1527.2 2240.1 1530.1 2239.6C1533 2239.1 1535.12 2237.48 1537.6 2237.9C1540.08 2238.32 1542.53 2241.6 1545 2242.1C1547.47 2242.6 1549.52 2239.87 1552.4 2240.9C1555.28 2241.93 1559 2246.25 1562.3 2248.3C1565.6 2250.35 1569.3 2251.13 1572.2 2253.2C1575.1 2255.27 1577.22 2257.38 1579.7 2260.7C1582.18 2264.02 1584.63 2268.57 1587.1 2273.1C1589.57 2277.63 1592.02 2282.75 1594.5 2287.9C1596.98 2293.05 1599.52 2298.83 1602 2304C1604.48 2309.17 1606.93 2314.15 1609.4 2318.9C1611.87 2323.65 1614.33 2328.38 1616.8 2332.5C1619.27 2336.62 1621.72 2340.42 1624.2 2343.6C1626.68 2346.78 1629.22 2349.57 1631.7 2351.6C1634.18 2353.63 1635.8 2354.68 1639.1 2355.8C1642.4 2356.92 1641.35 2357.77 1651.5 2358.3C1661.65 2358.83 1669.25 2358.88 1700 2359C1730.75 2359.12 1813.33 2359 1836 2359" stroke-linecap="square"/>
<path d="M1125 2359C1159.17 2358.92 1293.43 2359 1330 2358.5C1344.4 2358 1338.7 2357.45 1344.4 2356C1350.1 2354.55 1358.42 2352.48 1364.2 2349.8C1369.98 2347.12 1374.57 2343.4 1379.1 2339.9C1383.63 2336.4 1387.28 2332.1 1391.4 2328.8C1395.52 2325.5 1399.67 2323.2 1403.8 2320.1C1407.93 2317 1412.07 2312.88 1416.2 2310.2C1420.33 2307.52 1424.47 2305.65 1428.6 2304C1432.73 2302.35 1437.28 2301.53 1441 2300.3C1444.72 2299.07 1447.18 2297.83 1450.9 2296.6C1454.62 2295.37 1459.18 2294.22 1463.3 2292.9C1467.42 2291.58 1471.9 2289.73 1475.6 2288.7C1479.3 2287.67 1482.18 2288.28 1485.5 2286.7C1488.82 2285.12 1492.18 2282.3 1495.5 2279.2C1498.82 2276.1 1502.1 2271.07 1505.4 2268.1C1508.7 2265.13 1511.6 2262.02 1515.3 2261.4C1519 2260.78 1523.48 2262.67 1527.6 2264.4C1531.72 2266.13 1535.87 2268.5 1540 2271.8C1544.13 2275.1 1548.68 2280.28 1552.4 2284.2C1556.12 2288.12 1558.58 2292 1562.3 2295.3C1566.02 2298.6 1570.98 2300.68 1574.7 2304C1578.42 2307.32 1581.72 2311.68 1584.6 2315.2C1587.48 2318.72 1589.52 2321.4 1592 2325.1C1594.48 2328.8 1597.02 2333.83 1599.5 2337.4C1601.98 2340.97 1604.02 2344.32 1606.9 2346.5C1609.78 2348.68 1613.5 2348.92 1616.8 2350.5C1620.1 2352.08 1623.5 2354.58 1626.7 2356C1629.9 2357.42 1626.7 2358.5 1636 2359C1670.88 2359.5 1802.67 2359 1836 2359" stroke-dasharray="27.94 12.08" stroke-dashoffset="9"/>
<path d="M1125 2359C1162.5 2358.92 1310.13 2359 1350 2358.5C1364.2 2358 1358.53 2357.65 1364.2 2356C1369.87 2354.35 1377.6 2350.87 1384 2348.6C1390.4 2346.33 1396.82 2345.08 1402.6 2342.4C1408.38 2339.72 1412.92 2334.77 1418.7 2332.5C1424.48 2330.23 1431.32 2330.67 1437.3 2328.8C1443.28 2326.93 1448.62 2323.78 1454.6 2321.3C1460.58 2318.82 1467.02 2315.95 1473.2 2313.9C1479.38 2311.85 1485.52 2311.27 1491.7 2309C1497.88 2306.73 1505.75 2302.03 1510.3 2300.3C1514.85 2298.57 1515.9 2298.6 1519 2298.6C1522.1 2298.6 1524.57 2297.95 1528.9 2300.3C1533.23 2302.65 1539.85 2308.37 1545 2312.7C1550.15 2317.03 1554.65 2322.38 1559.8 2326.3C1564.95 2330.22 1570.53 2332.57 1575.9 2336.2C1581.27 2339.83 1586.42 2344.97 1592 2348.1C1597.58 2351.23 1604.4 2353.18 1609.4 2355C1614.4 2356.82 1609.4 2358.33 1622 2359C1659.77 2359.67 1800.33 2359 1836 2359" stroke-dasharray="7.55 12.46" stroke-dashoffset="6"/>
</g>
<rect x="1089.6" y="1684.6" width="781.6" height="674.3" fill="none" stroke="#000" stroke-width="2.2"/>
<path d="M1089.6 2358.9h-9M1089.6 2274.61h-9M1089.6 2190.32h-9M1089.6 2106.04h-9M1089.6 2021.75h-9M1089.6 1937.46h-9M1089.6 1853.17h-9M1089.6 1768.89h-9M1089.6 1684.6h-9M1125.13 2358.9v9M1185.64 2358.9v9M1244.2 2358.9v9M1304.72 2358.9v9M1363.28 2358.9v9M1423.79 2358.9v9M1484.31 2358.9v9M1538.96 2358.9v9M1599.48 2358.9v9M1658.04 2358.9v9M1718.55 2358.9v9M1777.12 2358.9v9" stroke="#000" stroke-width="2.2" fill="none"/>
<text x="1071.5" y="2373.6" font-size="42" text-anchor="end" textLength="24.74" lengthAdjust="spacingAndGlyphs">0</text>
<text x="1071.5" y="2289.31" font-size="42" text-anchor="end" textLength="49.49" lengthAdjust="spacingAndGlyphs">50</text>
<text x="1071.5" y="2205.02" font-size="42" text-anchor="end" textLength="74.23" lengthAdjust="spacingAndGlyphs">100</text>
<text x="1071.5" y="2120.74" font-size="42" text-anchor="end" textLength="74.23" lengthAdjust="spacingAndGlyphs">150</text>
<text x="1071.5" y="2036.45" font-size="42" text-anchor="end" textLength="74.23" lengthAdjust="spacingAndGlyphs">200</text>
<text x="1071.5" y="1952.16" font-size="42" text-anchor="end" textLength="74.23" lengthAdjust="spacingAndGlyphs">250</text>
<text x="1071.5" y="1867.87" font-size="42" text-anchor="end" textLength="74.23" lengthAdjust="spacingAndGlyphs">300</text>
<text x="1071.5" y="1783.59" font-size="42" text-anchor="end" textLength="74.23" lengthAdjust="spacingAndGlyphs">350</text>
<text x="1071.5" y="1699.3" font-size="42" text-anchor="end" textLength="74.23" lengthAdjust="spacingAndGlyphs">400</text>
<text x="1125.13" y="2406.4" font-size="42" text-anchor="middle" textLength="26.6" lengthAdjust="spacingAndGlyphs">A</text>
<text x="1185.64" y="2406.4" font-size="42" text-anchor="middle" textLength="24.69" lengthAdjust="spacingAndGlyphs">S</text>
<text x="1244.2" y="2406.4" font-size="42" text-anchor="middle" textLength="30.61" lengthAdjust="spacingAndGlyphs">O</text>
<text x="1304.72" y="2406.4" font-size="42" text-anchor="middle" textLength="29.09" lengthAdjust="spacingAndGlyphs">N</text>
<text x="1363.28" y="2406.4" font-size="42" text-anchor="middle" textLength="29.95" lengthAdjust="spacingAndGlyphs">D</text>
<path d="M1423.79 2378V2405.1c0 5 -1.9 7.7 -6.1 7.7" fill="none" stroke="#000" stroke-width="3.9"/>
<text x="1484.31" y="2406.4" font-size="42" text-anchor="middle" textLength="22.37" lengthAdjust="spacingAndGlyphs">F</text>
<text x="1538.96" y="2406.4" font-size="42" text-anchor="middle" textLength="33.55" lengthAdjust="spacingAndGlyphs">M</text>
<text x="1599.48" y="2406.4" font-size="42" text-anchor="middle" textLength="26.6" lengthAdjust="spacingAndGlyphs">A</text>
<text x="1658.04" y="2406.4" font-size="42" text-anchor="middle" textLength="33.55" lengthAdjust="spacingAndGlyphs">M</text>
<path d="M1718.55 2378V2405.1c0 5 -1.9 7.7 -6.1 7.7" fill="none" stroke="#000" stroke-width="3.9"/>
<path d="M1777.12 2378V2405.1c0 5 -1.9 7.7 -6.1 7.7" fill="none" stroke="#000" stroke-width="3.9"/>
<text x="1422.69" y="1667.8" font-size="41.22" textLength="115.43" lengthAdjust="spacingAndGlyphs" class="b">SLRV</text>
<g transform="translate(982 2322.5) rotate(-90)">
<text x="0" y="0" font-size="34" textLength="98.83" lengthAdjust="spacingAndGlyphs" class="b">Mean</text>
<text x="110.07" y="0" font-size="34" textLength="94.24" lengthAdjust="spacingAndGlyphs" class="b">snow</text>
<text x="215.56" y="0" font-size="34" textLength="104.9" lengthAdjust="spacingAndGlyphs" class="b">water</text>
<text x="331.71" y="0" font-size="34" textLength="193.34" lengthAdjust="spacingAndGlyphs" class="b">equivalent</text>
<text x="536.29" y="0" font-size="34" textLength="96.83" lengthAdjust="spacingAndGlyphs" class="b">[mm]</text>
</g>
<rect x="1694.9" y="1692.9" width="165.1" height="61.9" fill="#fff" stroke="#000" stroke-width="2.2"/>
<text x="1777.5" y="1735.1" font-size="42.39" text-anchor="middle" textLength="140.29" lengthAdjust="spacingAndGlyphs">RCP8.5</text>
<text x="1826.9" y="2313" font-size="29.1" text-anchor="middle" textLength="41.87" lengthAdjust="spacingAndGlyphs" class="s">(e)</text>
<rect x="1104.6" y="1699.6" width="273.9" height="140.6" rx="6" ry="6" fill="#fff" fill-opacity="0.8" stroke="#ccc" stroke-width="2"/>
<path d="M1116.6 1723.8H1176.6" stroke="#8b0000" stroke-width="7.55" stroke-linecap="square" fill="none"/>
<text x="1200.8" y="1734.5" font-size="30.9" textLength="75.15" lengthAdjust="spacingAndGlyphs" class="s">1991</text>
<rect x="1277.35" y="1724.6" width="13.4" height="2.4" fill="#000"/>
<text x="1291.55" y="1734.5" font-size="30.9" textLength="74.85" lengthAdjust="spacingAndGlyphs" class="s">2020</text>
<path d="M1116.6 1767.7H1176.6" stroke="#8b0000" stroke-width="7.55" stroke-dasharray="27.94 12.08" fill="none"/>
<text x="1200.8" y="1778.4" font-size="30.9" textLength="75.15" lengthAdjust="spacingAndGlyphs" class="s">2041</text>
<rect x="1277.35" y="1768.5" width="13.4" height="2.4" fill="#000"/>
<text x="1291.55" y="1778.4" font-size="30.9" textLength="74.85" lengthAdjust="spacingAndGlyphs" class="s">2070</text>
<path d="M1116.6 1811.6H1177.5" stroke="#8b0000" stroke-width="7.55" stroke-dasharray="7.55 12.46" fill="none"/>
<text x="1200.8" y="1822.3" font-size="30.9" textLength="75.15" lengthAdjust="spacingAndGlyphs" class="s">2070</text>
<rect x="1277.35" y="1812.4" width="13.4" height="2.4" fill="#000"/>
<text x="1291.55" y="1822.3" font-size="30.9" textLength="74.85" lengthAdjust="spacingAndGlyphs" class="s">2099</text>
</g>
</svg></body></html>
